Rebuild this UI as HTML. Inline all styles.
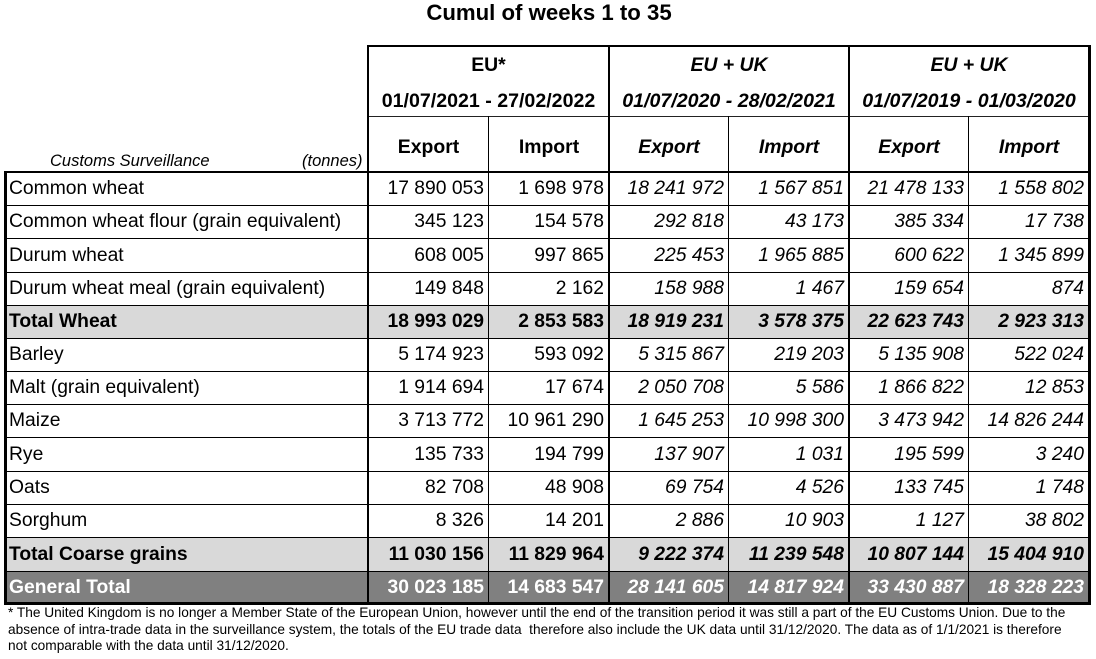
<!DOCTYPE html>
<html><head><meta charset="utf-8">
<style>
html,body{margin:0;padding:0;background:#fff;}
body{width:1096px;height:659px;position:relative;overflow:hidden;font-family:"Liberation Sans",Arial,sans-serif;color:#000;}
.a{position:absolute;white-space:nowrap;}
.t{position:absolute;white-space:nowrap;font-size:19.3px;}
.r{text-align:right;padding-right:5px;box-sizing:border-box;}
.c{text-align:center;}
.b{font-weight:bold;}
.i{font-style:italic;}
.hl{position:absolute;background:#000;}
</style></head><body>

<div class="a b c" style="left:300px;width:498px;top:0;height:26px;line-height:26px;font-size:22.2px;">Cumul of weeks 1 to 35</div>

<!-- header texts -->
<div class="a b c" style="left:368px;width:241px;top:53px;line-height:24px;font-size:19.4px;">EU*</div>
<div class="a b c" style="left:368px;width:241px;top:89px;line-height:24px;font-size:19.6px;">01/07/2021 - 27/02/2022</div>
<div class="a b c i" style="left:609px;width:240px;top:53px;line-height:24px;font-size:19.4px;">EU + UK</div>
<div class="a b c i" style="left:609px;width:240px;top:89px;line-height:24px;font-size:19.6px;">01/07/2020 - 28/02/2021</div>
<div class="a b c i" style="left:849px;width:240px;top:53px;line-height:24px;font-size:19.4px;">EU + UK</div>
<div class="a b c i" style="left:849px;width:240px;top:89px;line-height:24px;font-size:19.6px;">01/07/2019 - 01/03/2020</div>

<div class="a b c" style="left:368px;width:121px;top:135px;line-height:24px;font-size:19.4px;">Export</div>
<div class="a b c" style="left:489px;width:120px;top:135px;line-height:24px;font-size:19.4px;">Import</div>
<div class="a b c i" style="left:609px;width:120px;top:135px;line-height:24px;font-size:19.4px;">Export</div>
<div class="a b c i" style="left:729px;width:120px;top:135px;line-height:24px;font-size:19.4px;">Import</div>
<div class="a b c i" style="left:849px;width:120px;top:135px;line-height:24px;font-size:19.4px;">Export</div>
<div class="a b c i" style="left:969px;width:120px;top:135px;line-height:24px;font-size:19.4px;">Import</div>

<div class="a i" style="left:50px;top:151px;line-height:20px;font-size:16.5px;">Customs Surveillance</div>
<div class="a i" style="left:302px;top:151px;line-height:20px;font-size:16.5px;">(tonnes)</div>

<!-- row backgrounds -->
<div class="a" style="left:5px;width:1084px;top:305px;height:33px;background:#d9d9d9;"></div>
<div class="a" style="left:5px;width:1084px;top:537px;height:34px;background:#d9d9d9;"></div>
<div class="a" style="left:5px;width:1084px;top:571px;height:32px;background:#808080;"></div>

<div class="t" style="left:9px;top:172px;line-height:34px;">Common wheat</div>
<div class="t r" style="left:368px;width:121px;top:172px;line-height:34px;">17 890 053</div>
<div class="t r" style="left:489px;width:120px;top:172px;line-height:34px;">1 698 978</div>
<div class="t r i" style="left:609px;width:120px;top:172px;line-height:34px;">18 241 972</div>
<div class="t r i" style="left:729px;width:120px;top:172px;line-height:34px;">1 567 851</div>
<div class="t r i" style="left:849px;width:120px;top:172px;line-height:34px;">21 478 133</div>
<div class="t r i" style="left:969px;width:120px;top:172px;line-height:34px;">1 558 802</div>

<div class="t" style="left:9px;top:205px;line-height:34px;">Common wheat flour (grain equivalent)</div>
<div class="t r" style="left:368px;width:121px;top:205px;line-height:34px;">345 123</div>
<div class="t r" style="left:489px;width:120px;top:205px;line-height:34px;">154 578</div>
<div class="t r i" style="left:609px;width:120px;top:205px;line-height:34px;">292 818</div>
<div class="t r i" style="left:729px;width:120px;top:205px;line-height:34px;">43 173</div>
<div class="t r i" style="left:849px;width:120px;top:205px;line-height:34px;">385 334</div>
<div class="t r i" style="left:969px;width:120px;top:205px;line-height:34px;">17 738</div>

<div class="t" style="left:9px;top:238px;line-height:35px;">Durum wheat</div>
<div class="t r" style="left:368px;width:121px;top:238px;line-height:35px;">608 005</div>
<div class="t r" style="left:489px;width:120px;top:238px;line-height:35px;">997 865</div>
<div class="t r i" style="left:609px;width:120px;top:238px;line-height:35px;">225 453</div>
<div class="t r i" style="left:729px;width:120px;top:238px;line-height:35px;">1 965 885</div>
<div class="t r i" style="left:849px;width:120px;top:238px;line-height:35px;">600 622</div>
<div class="t r i" style="left:969px;width:120px;top:238px;line-height:35px;">1 345 899</div>

<div class="t" style="left:9px;top:272px;line-height:34px;">Durum wheat meal (grain equivalent)</div>
<div class="t r" style="left:368px;width:121px;top:272px;line-height:34px;">149 848</div>
<div class="t r" style="left:489px;width:120px;top:272px;line-height:34px;">2 162</div>
<div class="t r i" style="left:609px;width:120px;top:272px;line-height:34px;">158 988</div>
<div class="t r i" style="left:729px;width:120px;top:272px;line-height:34px;">1 467</div>
<div class="t r i" style="left:849px;width:120px;top:272px;line-height:34px;">159 654</div>
<div class="t r i" style="left:969px;width:120px;top:272px;line-height:34px;">874</div>

<div class="t b" style="left:9px;top:305px;line-height:34px;">Total Wheat</div>
<div class="t r b" style="left:368px;width:121px;top:305px;line-height:34px;">18 993 029</div>
<div class="t r b" style="left:489px;width:120px;top:305px;line-height:34px;">2 853 583</div>
<div class="t r b i" style="left:609px;width:120px;top:305px;line-height:34px;">18 919 231</div>
<div class="t r b i" style="left:729px;width:120px;top:305px;line-height:34px;">3 578 375</div>
<div class="t r b i" style="left:849px;width:120px;top:305px;line-height:34px;">22 623 743</div>
<div class="t r b i" style="left:969px;width:120px;top:305px;line-height:34px;">2 923 313</div>

<div class="t" style="left:9px;top:338px;line-height:34px;">Barley</div>
<div class="t r" style="left:368px;width:121px;top:338px;line-height:34px;">5 174 923</div>
<div class="t r" style="left:489px;width:120px;top:338px;line-height:34px;">593 092</div>
<div class="t r i" style="left:609px;width:120px;top:338px;line-height:34px;">5 315 867</div>
<div class="t r i" style="left:729px;width:120px;top:338px;line-height:34px;">219 203</div>
<div class="t r i" style="left:849px;width:120px;top:338px;line-height:34px;">5 135 908</div>
<div class="t r i" style="left:969px;width:120px;top:338px;line-height:34px;">522 024</div>

<div class="t" style="left:9px;top:371px;line-height:34px;">Malt (grain equivalent)</div>
<div class="t r" style="left:368px;width:121px;top:371px;line-height:34px;">1 914 694</div>
<div class="t r" style="left:489px;width:120px;top:371px;line-height:34px;">17 674</div>
<div class="t r i" style="left:609px;width:120px;top:371px;line-height:34px;">2 050 708</div>
<div class="t r i" style="left:729px;width:120px;top:371px;line-height:34px;">5 586</div>
<div class="t r i" style="left:849px;width:120px;top:371px;line-height:34px;">1 866 822</div>
<div class="t r i" style="left:969px;width:120px;top:371px;line-height:34px;">12 853</div>

<div class="t" style="left:9px;top:404px;line-height:34px;">Maize</div>
<div class="t r" style="left:368px;width:121px;top:404px;line-height:34px;">3 713 772</div>
<div class="t r" style="left:489px;width:120px;top:404px;line-height:34px;">10 961 290</div>
<div class="t r i" style="left:609px;width:120px;top:404px;line-height:34px;">1 645 253</div>
<div class="t r i" style="left:729px;width:120px;top:404px;line-height:34px;">10 998 300</div>
<div class="t r i" style="left:849px;width:120px;top:404px;line-height:34px;">3 473 942</div>
<div class="t r i" style="left:969px;width:120px;top:404px;line-height:34px;">14 826 244</div>

<div class="t" style="left:9px;top:437px;line-height:35px;">Rye</div>
<div class="t r" style="left:368px;width:121px;top:437px;line-height:35px;">135 733</div>
<div class="t r" style="left:489px;width:120px;top:437px;line-height:35px;">194 799</div>
<div class="t r i" style="left:609px;width:120px;top:437px;line-height:35px;">137 907</div>
<div class="t r i" style="left:729px;width:120px;top:437px;line-height:35px;">1 031</div>
<div class="t r i" style="left:849px;width:120px;top:437px;line-height:35px;">195 599</div>
<div class="t r i" style="left:969px;width:120px;top:437px;line-height:35px;">3 240</div>

<div class="t" style="left:9px;top:471px;line-height:34px;">Oats</div>
<div class="t r" style="left:368px;width:121px;top:471px;line-height:34px;">82 708</div>
<div class="t r" style="left:489px;width:120px;top:471px;line-height:34px;">48 908</div>
<div class="t r i" style="left:609px;width:120px;top:471px;line-height:34px;">69 754</div>
<div class="t r i" style="left:729px;width:120px;top:471px;line-height:34px;">4 526</div>
<div class="t r i" style="left:849px;width:120px;top:471px;line-height:34px;">133 745</div>
<div class="t r i" style="left:969px;width:120px;top:471px;line-height:34px;">1 748</div>

<div class="t" style="left:9px;top:504px;line-height:34px;">Sorghum</div>
<div class="t r" style="left:368px;width:121px;top:504px;line-height:34px;">8 326</div>
<div class="t r" style="left:489px;width:120px;top:504px;line-height:34px;">14 201</div>
<div class="t r i" style="left:609px;width:120px;top:504px;line-height:34px;">2 886</div>
<div class="t r i" style="left:729px;width:120px;top:504px;line-height:34px;">10 903</div>
<div class="t r i" style="left:849px;width:120px;top:504px;line-height:34px;">1 127</div>
<div class="t r i" style="left:969px;width:120px;top:504px;line-height:34px;">38 802</div>

<div class="t b" style="left:9px;top:537px;line-height:35px;">Total Coarse grains</div>
<div class="t r b" style="left:368px;width:121px;top:537px;line-height:35px;">11 030 156</div>
<div class="t r b" style="left:489px;width:120px;top:537px;line-height:35px;">11 829 964</div>
<div class="t r b i" style="left:609px;width:120px;top:537px;line-height:35px;">9 222 374</div>
<div class="t r b i" style="left:729px;width:120px;top:537px;line-height:35px;">11 239 548</div>
<div class="t r b i" style="left:849px;width:120px;top:537px;line-height:35px;">10 807 144</div>
<div class="t r b i" style="left:969px;width:120px;top:537px;line-height:35px;">15 404 910</div>

<div class="t b" style="left:9px;top:571px;line-height:33px;color:#fff;">General Total</div>
<div class="t r b" style="left:368px;width:121px;top:571px;line-height:33px;color:#fff;">30 023 185</div>
<div class="t r b" style="left:489px;width:120px;top:571px;line-height:33px;color:#fff;">14 683 547</div>
<div class="t r b i" style="left:609px;width:120px;top:571px;line-height:33px;color:#fff;">28 141 605</div>
<div class="t r b i" style="left:729px;width:120px;top:571px;line-height:33px;color:#fff;">14 817 924</div>
<div class="t r b i" style="left:849px;width:120px;top:571px;line-height:33px;color:#fff;">33 430 887</div>
<div class="t r b i" style="left:969px;width:120px;top:571px;line-height:33px;color:#fff;">18 328 223</div>

<!-- horizontal lines -->
<div class="hl" style="left:367px;width:724px;top:45px;height:2px;"></div>
<div class="hl" style="left:368px;width:722px;top:116px;height:1px;background:#222;"></div>
<div class="hl" style="left:4px;width:1087px;top:171px;height:2px;"></div>
<div class="hl" style="left:5px;width:1085px;top:205px;height:1px;"></div>
<div class="hl" style="left:5px;width:1085px;top:238px;height:1px;"></div>
<div class="hl" style="left:5px;width:1085px;top:272px;height:1px;"></div>
<div class="hl" style="left:5px;width:1085px;top:305px;height:1px;"></div>
<div class="hl" style="left:5px;width:1085px;top:338px;height:1px;"></div>
<div class="hl" style="left:5px;width:1085px;top:371px;height:1px;"></div>
<div class="hl" style="left:5px;width:1085px;top:404px;height:1px;"></div>
<div class="hl" style="left:5px;width:1085px;top:437px;height:1px;"></div>
<div class="hl" style="left:5px;width:1085px;top:471px;height:1px;"></div>
<div class="hl" style="left:5px;width:1085px;top:504px;height:1px;"></div>
<div class="hl" style="left:5px;width:1085px;top:537px;height:1px;"></div>
<div class="hl" style="left:5px;width:1085px;top:571px;height:1px;"></div>
<div class="hl" style="left:4px;width:1087px;top:602px;height:3px;"></div>

<!-- vertical lines -->
<div class="hl" style="left:4px;width:3px;top:171px;height:433px;"></div>
<div class="hl" style="left:367px;width:2px;top:45px;height:559px;"></div>
<div class="hl" style="left:488px;width:1px;top:116px;height:488px;"></div>
<div class="hl" style="left:608px;width:2px;top:45px;height:559px;"></div>
<div class="hl" style="left:728px;width:1px;top:116px;height:488px;"></div>
<div class="hl" style="left:848px;width:2px;top:45px;height:559px;"></div>
<div class="hl" style="left:968px;width:1px;top:116px;height:488px;"></div>
<div class="hl" style="left:1088px;width:3px;top:45px;height:560px;"></div>

<!-- footer -->
<div class="a" style="left:8px;top:605px;font-size:13.7px;line-height:16.7px;">* The United Kingdom is no longer a Member State of the European Union, however until the end of the transition period it was still a part of the EU Customs Union. Due to the<br>absence of intra-trade data in the surveillance system, the totals of the EU trade data &nbsp;therefore also include the UK data until 31/12/2020. The data as of 1/1/2021 is therefore<br>not comparable with the data until 31/12/2020.</div>

</body></html>
